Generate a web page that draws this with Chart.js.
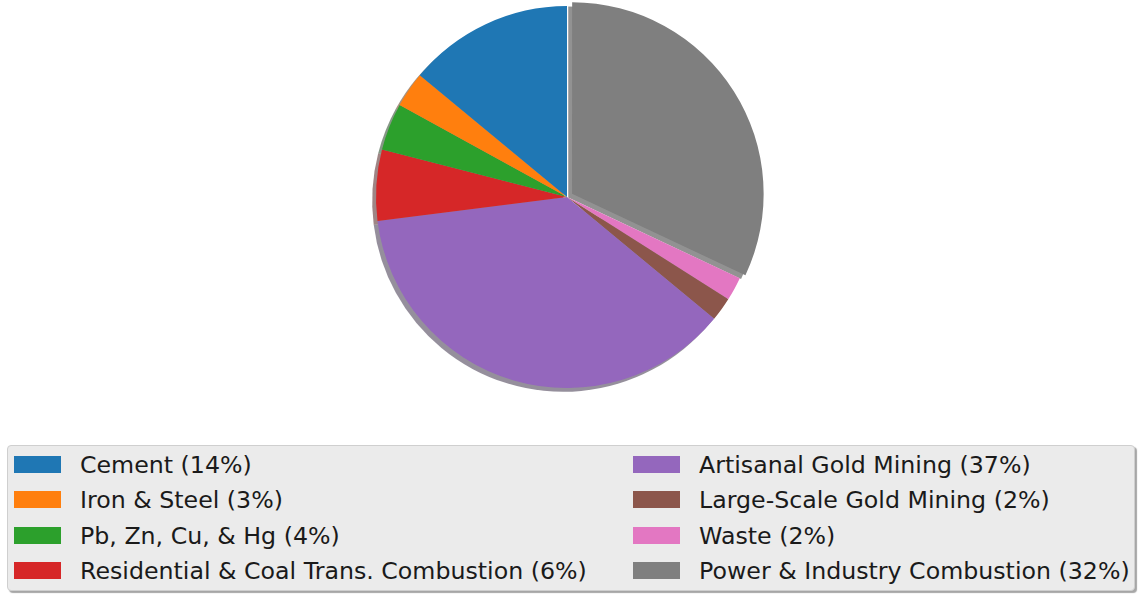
<!DOCTYPE html>
<html>
<head>
<meta charset="utf-8">
<script src="https://cdn.jsdelivr.net/npm/chart.js@4"></script>
<style>
  html, body { margin: 0; padding: 0; background: #fff; }
  body { width: 1139px; height: 596px; position: relative; overflow: hidden; font-family: "DejaVu Sans", sans-serif; }
  #pie-wrap { position: absolute; left: 0; top: 0; width: 1139px; height: 394px; }
  #legend {
    position: absolute; left: 7px; top: 445px; width: 1128px; height: 146px;
    box-sizing: border-box;
    background: #ebebeb; border: 1px solid #cfcfcf; border-radius: 4px;
    box-shadow: 2px 2px 1px rgba(0,0,0,0.35);
  }
  .item { position: absolute; height: 24px; font-size: 23.7px; line-height: 24px; color: #1a1a1a; white-space: nowrap; }
  .swatch { position: absolute; left: 0; top: 3px; width: 47px; height: 17px; }
  .item span { position: absolute; left: 66px; top: 0; }
</style>
</head>
<body>
<div id="pie-wrap"><canvas id="pie"></canvas></div>
<div id="legend"></div>
<script>
// mercury emission sources, share of total (%)
const sources = ['Cement', 'Iron & Steel', 'Pb, Zn, Cu, & Hg', 'Residential & Coal Trans. Combustion',
                 'Artisanal Gold Mining', 'Large-Scale Gold Mining', 'Waste', 'Power & Industry Combustion'];
const shares = [14, 3, 4, 6, 37, 2, 2, 32];
const colors = ['#1f77b4', '#ff7f0e', '#2ca02c', '#d62728', '#9467bd', '#8c564b', '#e377c2', '#7f7f7f'];
const explode = [0, 0, 0, 0, 0, 0, 0, 24];

// wedges go counter-clockwise from the top, Chart.js goes clockwise -> reverse
const rev = a => a.slice().reverse();

function shadowColor(hex){
    const n = parseInt(hex.slice(1), 16);
    const r = Math.round(((n >> 16) & 255) * 0.3), g = Math.round(((n >> 8) & 255) * 0.3), b = Math.round((n & 255) * 0.3);
    return `rgba(${r},${g},${b},0.5)`;
}

// soft drop shadow under each wedge, drawn before the wedges themselves
const wedgeShadow = {
    id: 'wedgeShadow',
    beforeDatasetsDraw(chart){
        const ctx = chart.ctx;
        const meta = chart.getDatasetMeta(0);
        const bg = chart.data.datasets[0].backgroundColor;
        meta.data.forEach((arc, i) => {
            const p = arc.getProps(['x', 'y', 'startAngle', 'endAngle', 'outerRadius']);
            const off = (arc.options.offset || 0) / 4;
            const half = (p.startAngle + p.endAngle) / 2;
            const cx = p.x + Math.cos(half) * off - 3.8;
            const cy = p.y + Math.sin(half) * off + 3.8;
            ctx.save();
            ctx.fillStyle = shadowColor(bg[i]);
            ctx.beginPath();
            ctx.moveTo(cx, cy);
            ctx.arc(cx, cy, p.outerRadius, p.startAngle, p.endAngle);
            ctx.closePath();
            ctx.fill();
            ctx.restore();
        });
    }
};

new Chart(document.getElementById('pie'), {
    type: 'pie',
    data: {
        labels: rev(sources),
        datasets: [{
            data: rev(shares),
            backgroundColor: rev(colors),
            offset: rev(explode),
            borderWidth: 0
        }]
    },
    options: {
        responsive: true,
        maintainAspectRatio: false,
        animation: false,
        radius: 191,
        layout: { padding: { right: 5 } },
        plugins: { legend: { display: false }, tooltip: { enabled: false } }
    },
    plugins: [wedgeShadow]
});

// two-column legend, filled column by column
const legend = document.getElementById('legend');
sources.forEach((name, i) => {
    const col = Math.floor(i / 4), row = i % 4;
    const item = document.createElement('div');
    item.className = 'item';
    item.style.left = (col === 0 ? 6 : 625) + 'px';
    item.style.top = (7 + row * 35.3) + 'px';
    item.innerHTML = `<div class="swatch" style="background:${colors[i]}"></div><span>${name} (${shares[i]}%)</span>`;
    legend.appendChild(item);
});
</script>
</body>
</html>
